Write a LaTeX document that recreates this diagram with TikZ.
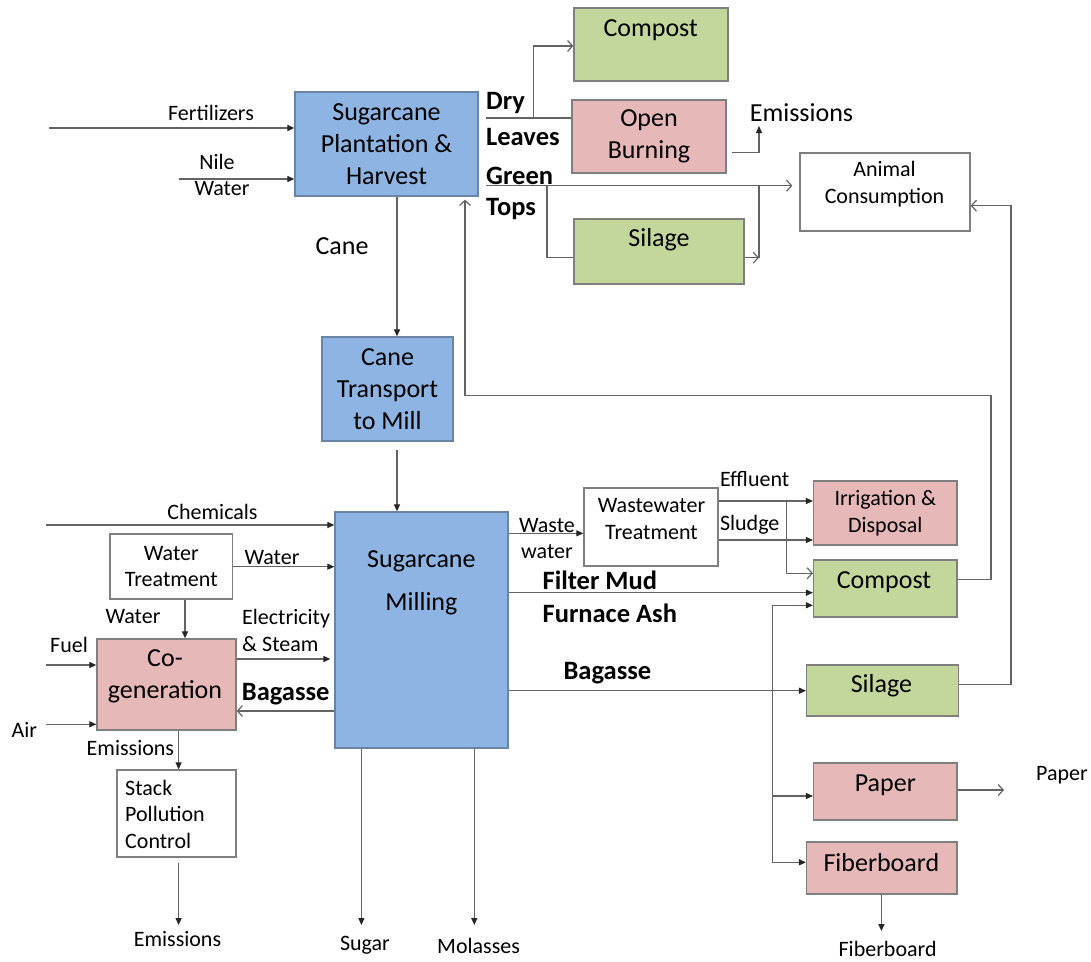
\documentclass[tikz,border=0pt]{standalone}
\usepackage{fontspec}
\setmainfont{Carlito}
\usetikzlibrary{arrows.meta}
\definecolor{bluef}{HTML}{8EB4E3}
\definecolor{greenf}{HTML}{C3D69B}
\definecolor{pinkf}{HTML}{E6B9B8}
\definecolor{bord}{HTML}{7F7F7F}
\definecolor{bordb}{HTML}{6A84A6}
\definecolor{lng}{HTML}{646464}
\definecolor{tipc}{HTML}{262626}
\tikzset{
  box/.style={draw=bord, line width=1.3pt, rectangle, inner sep=0pt},
  bbox/.style={box, draw=bordb, fill=bluef},
  gbox/.style={box, fill=greenf},
  pbox/.style={box, fill=pinkf},
  wbox/.style={box, fill=white},
  ln/.style={draw=lng, line width=1.2pt},
  fa/.style={ln, -{Triangle[length=7pt,width=6pt,color=tipc]}},
  oa/.style={ln, -{Straight Barb[length=5pt,width=11pt,line width=1.2pt]}},
  sm/.style={font=\fontsize{22}{26.7}\selectfont, align=center, inner sep=0pt},
  bg/.style={font=\fontsize{26}{32}\selectfont, align=center, inner sep=0pt},
  bd/.style={font=\bfseries\fontsize{26.5}{30}\selectfont, inner sep=0pt},
}
\begin{document}
\begin{tikzpicture}[x=1pt,y=-1pt]
\useasboundingbox[fill=white] (0,0) rectangle (1091,961);

% ---------- boxes ----------
\node[bbox, minimum width=183pt, minimum height=104pt, bg] (plant) at (386.5,144) {Sugarcane\\Plantation \&\\Harvest};
\node[gbox, minimum width=154pt, minimum height=73pt] (compA) at (651,44.5) {};
\node[pbox, minimum width=154pt, minimum height=73pt, bg] (burn) at (649,136.5) {Open\\Burning};
\node[wbox, minimum width=170pt, minimum height=78pt] (animal) at (885,192) {};
\node[gbox, minimum width=170pt, minimum height=65pt] (silA) at (659,251.5) {};
\node[bbox, minimum width=131pt, minimum height=104pt, bg] (trans) at (387.5,389) {Cane\\Transport\\to Mill};
\node[bbox, minimum width=173pt, minimum height=236pt] (mill) at (421.5,630) {};
\node[wbox, minimum width=122.5pt, minimum height=65pt, sm] (wt) at (171.3,566.5) {Water\\Treatment};
\node[pbox, minimum width=139pt, minimum height=91pt] (cogen) at (166.5,684.5) {};
\node[wbox, minimum width=119pt, minimum height=87pt] (stack) at (176.5,813.5) {};
\node[wbox, minimum width=134pt, minimum height=78pt] (wwt) at (651,527) {};
\node[pbox, minimum width=143.4pt, minimum height=64pt, sm] (irr) at (885.3,513) {Irrigation \&\\Disposal};
\node[gbox, minimum width=143.4pt, minimum height=57pt] (compB) at (885.3,588.5) {};
\node[gbox, minimum width=152pt, minimum height=51pt] (silB) at (882.6,690.5) {};
\node[pbox, minimum width=143.4pt, minimum height=57pt] (paper) at (885.3,791.5) {};
\node[pbox, minimum width=150.4pt, minimum height=52pt] (fib) at (881.8,868) {};

% ---------- texts inside boxes ----------
\node[bg] (tcompA) at (650.7,30) {Compost};
\node[sm] (tanimal) at (884.5,184) {Animal\\Consumption};
\node[bg] (tsilA) at (659,240) {Silage};
\node[bg] (tmill) at (421.4,583) {Sugarcane\\[11pt]Milling};
\node[bg] (tcogen) at (165,676) {Co-\\generation};
\node[sm, align=left, anchor=west] (tstack) at (125,814.3) {Stack\\Pollution\\Control};
\node[sm] (twwt) at (651.5,519) {Wastewater\\Treatment};
\node[bg] (tcompB) at (884,582) {Compost};
\node[bg] (tsilB) at (881.4,686) {Silage};
\node[bg] (tpaper) at (885.3,785) {Paper};
\node[bg] (tfib) at (881.4,863) {Fiberboard};

% ---------- free ends ----------
\coordinate (fert) at (49,128);
\coordinate (nile) at (178.6,179);
\coordinate (dl) at (486,118);
\coordinate (gt) at (486,185.7);
\coordinate (chem) at (46.4,525);
\coordinate (fuel) at (46.4,665);
\coordinate (air) at (46.4,724.3);
\coordinate (emA) at (759,126);
\coordinate (emB) at (178.6,925);
\coordinate (sug) at (361.4,925);
\coordinate (mol) at (474.3,925);
\coordinate (pap) at (1004,790);
\coordinate (fibo) at (881.4,931);

% ---------- labels ----------
\node[sm] (lfert) at (211,113) {Fertilizers};
\node[sm] (lnile) at (217,162) {Nile};
\node[sm] (lwat) at (222,189) {Water};
\node[bg] (lcane) at (342,246) {Cane};
\node[bd, anchor=west] (ldry) at (486,103) {Dry};
\node[bd, anchor=west] (lleaves) at (486,137) {Leaves};
\node[bd, anchor=west] (lgreen) at (486,176) {Green};
\node[bd, anchor=west] (ltops) at (486,209) {Tops};
\node[bg] (lemA) at (801.5,113) {Emissions};
\node[sm] (lchem) at (212.5,512) {Chemicals};
\node[sm] (lwater1) at (272,557.7) {Water};
\node[sm] (lwater2) at (133,616.7) {Water};
\node[sm] (lfuel) at (69,644.7) {Fuel};
\node[sm] (lair) at (24.3,730) {Air};
\node[sm, align=left, anchor=west] (lelec) at (242,630.6) {Electricity\\\& Steam};
\node[bd] (lbag1) at (285.7,694.3) {Bagasse};
\node[sm] (lemB) at (130.4,747.7) {Emissions};
\node[sm] (lemC) at (177.5,939) {Emissions};
\node[sm] (lsug) at (365,945.7) {Sugar};
\node[sm] (lmol) at (478.6,945.7) {Molasses};
\node[sm] (lwaste) at (547,538.5) {Waste\\water};
\node[sm] (leff) at (754.7,479.3) {Effluent};
\node[sm] (lslu) at (749.7,525) {Sludge};
\node[bd, anchor=west] (lfm) at (542.4,580) {Filter Mud};
\node[bd, anchor=west] (lfa) at (542.4,613.3) {Furnace Ash};
\node[bd] (lbag2) at (607.4,672.7) {Bagasse};
\node[sm] (lpap) at (1062,775) {Paper};
\node[sm] (lfib) at (887.6,948.5) {Fiberboard};

% ---------- connectors: top ----------
\draw[fa] (fert) -- (plant.west |- 0,128);
\draw[fa] (nile) -- (plant.west |- 0,179);
\draw[fa] (plant.south -| 397,0) -- (trans.north -| 397,0);
\draw[ln] (dl) -- (burn.west |- dl);
\draw[oa] (533.4,118) -- (533.4,46) -- (compA.west |- 0,46);
\draw[fa] (732,152.7) -- (759,152.7) -- (emA);
\draw[oa, shorten >=7pt] (gt) -- (animal.west |- gt);
\draw[ln] (547,185.7) -- (547,257.7) -- (silA.west |- 0,257.7);
\draw[oa] (silA.east |- 0,257.7) -- (759,257.7);
\draw[ln] (759,185.7) -- (759,257.7);
\draw[oa] (silB.east |- 0,684.3) -- (1011,684.3) -- (1011,205.7) -- (animal.east |- 0,205.7);
\draw[oa, shorten >=3pt] (compB.east |- 0,579.3) -- (991,579.3) -- (991,395.7) -- (465,395.7) -- (plant.south -| 465,0);
\draw[fa] (trans.south -| 397,0) ++(0,8) -- (mill.north -| 397,0);

% ---------- connectors: left ----------
\draw[fa] (chem) -- (mill.west |- chem);
\draw[fa] (wt.east |- 0,566.7) -- (mill.west |- 0,566.7);
\draw[fa] (wt.south -| 185,0) -- (cogen.north -| 185,0);
\draw[fa] (fuel) -- (cogen.west |- fuel);
\draw[fa] (air) -- (cogen.west |- air);
\draw[fa, shorten >=4pt] (cogen.east |- 0,659) -- (mill.west |- 0,659);
\draw[oa] (mill.west |- 0,711) -- (cogen.east |- 0,711);
\draw[fa] (cogen.south -| 178.6,0) -- (stack.north -| 178.6,0);
\draw[fa] (stack.south -| 178.6,0) ++(0,5.5) -- (emB);
\draw[fa] (mill.south -| sug) -- (sug);
\draw[fa] (mill.south -| mol) -- (mol);

% ---------- connectors: right ----------
\draw[fa] (mill.east |- 0,533.3) -- (wwt.west |- 0,533.3);
\draw[fa] (wwt.east |- 0,501) -- (irr.west |- 0,501);
\draw[fa] (wwt.east |- 0,540) -- (irr.west |- 0,540);
\draw[oa] (786.7,501) -- (786.7,573.3) -- (compB.west |- 0,573.3);
\draw[fa] (mill.east |- 0,592.7) -- (compB.west |- 0,592.7);
\draw[fa] (mill.east |- 0,690.7) -- (silB.west |- 0,690.7);
\draw[fa] (772.3,605.3) -- (compB.west |- 0,605.3);
\draw[fa] (772.3,605.3) -- (772.3,862.3) -- (fib.west |- 0,862.3);
\draw[fa] (772.3,796) -- (paper.west |- 0,796);
\draw[oa] (paper.east |- pap) -- (pap);
\draw[fa] (fib.south -| fibo) -- (fibo);
\end{tikzpicture}
\end{document}
